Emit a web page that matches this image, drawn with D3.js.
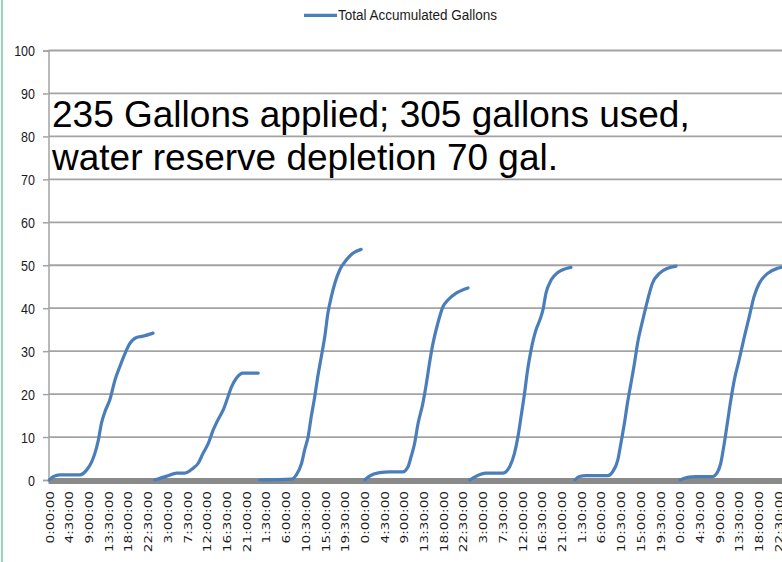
<!DOCTYPE html>
<html><head><meta charset="utf-8">
<script src="https://cdn.jsdelivr.net/npm/d3@7"></script>
<style>html,body{margin:0;padding:0;background:#fff;overflow:hidden}</style>
</head><body>
<svg id="c" width="782" height="562"></svg>
<script>
// ---- data ----
const seriesName = "Total Accumulated Gallons";
const annotationLines = ["235 Gallons applied; 305 gallons used,", "water reserve depletion 70 gal."];
const yTicks = [0, 10, 20, 30, 40, 50, 60, 70, 80, 90, 100];
const xTickHours = d3.range(0, 167, 4.5); // a label every 4.5 hours
// each day: [hour of day, accumulated gallons]
const day1 = [[0,0],[0.9,0.8],[2.4,1.2],[7.0,1.2],[8.5,2.3],[9.7,4.3],[10.4,6.2],[11.2,9.3],[11.9,13.2],[12.7,15.9],[13.8,18.6],[15.0,23.3],[16.1,26.4],[17.3,29.5],[18.4,31.8],[19.9,33.2],[21.4,33.5],[23.7,34.2]];
const day2 = [[0.1,0],[2.8,0.9],[5.1,1.6],[6.9,1.6],[8.8,2.7],[10.0,3.9],[11.1,6.2],[12.3,8.5],[13.4,11.6],[14.5,14.0],[15.7,16.3],[16.8,19.4],[17.6,21.7],[18.7,23.7],[20.2,24.9],[23.7,24.9]];
const day3 = [[0,0],[7.3,0.2],[8.4,1.2],[9.6,3.9],[10.3,7.0],[11.1,10.1],[11.8,14.7],[12.6,19.4],[13.3,24.1],[14.1,28.7],[14.9,33.4],[15.6,38.8],[16.4,42.7],[17.2,45.8],[18.3,48.9],[19.8,51.2],[21.3,52.8],[23.2,53.7]];
const day4 = [[0,0],[1.1,0.9],[3.4,1.7],[5.7,1.9],[8.7,1.9],[9.9,3.1],[10.6,5.4],[11.4,8.5],[12.2,13.2],[13.3,17.9],[14.1,22.5],[14.8,27.2],[15.6,31.8],[16.7,36.5],[17.9,40.4],[19.0,41.9],[20.9,43.5],[23.6,44.7]];
const day5 = [[0,0],[1.5,0.9],[3.7,1.6],[7.5,1.6],[9.1,3.1],[10.2,6.2],[11.0,10.1],[11.7,14.7],[12.5,20.2],[13.2,25.6],[14.0,30.3],[15.2,35.2],[15.9,37.0],[16.7,39.6],[17.4,43.5],[18.6,46.6],[20.1,48.3],[21.6,49.1],[23.1,49.5]];
const day6 = [[0,0],[1.0,0.8],[2.6,1.0],[7.5,1.0],[8.6,1.9],[9.8,4.7],[10.5,8.5],[11.3,13.2],[12.0,17.9],[12.8,22.5],[13.6,27.2],[14.3,31.8],[15.5,37.3],[16.6,41.9],[17.7,45.8],[19.3,48.1],[21.2,49.3],[23.1,49.8]];
const day7 = [[0,0],[1.7,0.6],[3.6,0.8],[7.4,0.8],[8.6,1.9],[9.3,3.9],[10.1,8.5],[10.8,13.2],[11.6,18.6],[12.4,23.3],[13.5,28.0],[14.7,33.4],[15.8,38.0],[16.9,42.7],[18.1,45.8],[20.0,48.1],[22.3,49.3],[23.5,49.6]];
const days = [day1, day2, day3, day4, day5, day6, day7];

// ---- drawing ----
const W = 782, H = 562;
const svg = d3.select("#c");
const x = d3.scaleLinear().domain([0, 168]).range([49.3, 49.3 + 168 * 4.38]);
const y = d3.scaleLinear().domain([0, 100]).range([480, 50.5]);
const blue = "#4a7ebb";
const axisX = 48.5;

// left slide border
svg.append("line").attr("x1", 2).attr("x2", 2).attr("y1", 0).attr("y2", H)
  .attr("stroke", "#74cc9e").attr("stroke-width", 1.5);

// gridlines
svg.append("g").selectAll("line").data(yTicks.filter(d => d > 0)).join("line")
  .attr("x1", axisX).attr("x2", W + 10)
  .attr("y1", d => y(d)).attr("y2", d => y(d))
  .attr("stroke", "#a3a3a3").attr("stroke-width", 1.8);

// y axis via d3.axisLeft
const yAxis = svg.append("g").attr("transform", `translate(${axisX},0)`)
  .call(d3.axisLeft(y).tickValues(yTicks).tickSize(5.5).tickPadding(8).tickFormat(d3.format("d")));
yAxis.select(".domain").attr("stroke", "#a3a3a3").attr("stroke-width", 1.5);
yAxis.selectAll(".tick line").attr("stroke", "#a3a3a3").attr("stroke-width", 1.5);
yAxis.selectAll(".tick text").each(function() {
  const t = d3.select(this);
  const tx = +t.attr("x");
  t.attr("x", null).attr("dy", null)
   .attr("transform", `translate(${tx},0) scale(1,1.2)`)
   .attr("dy", "0.36em");
}).attr("font-family", "'Liberation Sans', Arial, sans-serif").attr("font-size", 12.5).attr("fill", "#1a1a1a");
yAxis.attr("font-family", null).attr("font-size", null);

// x axis (thick gray bar) with time labels
svg.append("line").attr("x1", axisX).attr("x2", W + 10).attr("y1", 481).attr("y2", 481)
  .attr("stroke", "#8a8a8a").attr("stroke-width", 6);
const fmt = h => { const hh = Math.floor(h % 24); const mm = Math.round((h % 1) * 60); return `${hh}:${String(mm).padStart(2, "0")}:00`; };
const xAxis = svg.append("g").attr("transform", "translate(0,484)")
  .call(d3.axisBottom(x).tickValues(xTickHours).tickSize(0).tickPadding(0).tickFormat(fmt));
xAxis.select(".domain").remove();
xAxis.selectAll(".tick text")
  .attr("y", null).attr("dy", "0.36em")
  .attr("transform", "translate(0,7) rotate(-90) scale(1.3,1)")
  .attr("text-anchor", "end")
  .attr("font-family", "'DejaVu Sans', Verdana, sans-serif").attr("font-size", 10.5).attr("fill", "#1a1a1a");

// series lines, one segment per day
const line = d3.line().x(d => d[0]).y(d => y(d[1])).curve(d3.curveMonotoneX);
svg.append("g").selectAll("path").data(days).join("path")
  .attr("d", (d, i) => line(d.map(p => [x(i * 24 + p[0]), p[1]])))
  .attr("fill", "none").attr("stroke", blue).attr("stroke-width", 3.2)
  .attr("stroke-linecap", "round").attr("stroke-linejoin", "round");

// legend
svg.append("line").attr("x1", 304).attr("x2", 337).attr("y1", 15.3).attr("y2", 15.3)
  .attr("stroke", blue).attr("stroke-width", 3.2);
svg.append("text").attr("transform", "translate(338,20) scale(1,1.13)")
  .attr("font-family", "'Liberation Sans', Arial, sans-serif").attr("font-size", 13.5).attr("fill", "#1a1a1a")
  .text(seriesName);

// annotation
svg.append("g").selectAll("text").data(annotationLines).join("text")
  .attr("x", 52).attr("y", (d, i) => 127 + i * 43)
  .attr("font-family", "'Liberation Sans', Arial, sans-serif").attr("font-size", 37).attr("fill", "#000")
  .text(d => d);
</script>
</body></html>
